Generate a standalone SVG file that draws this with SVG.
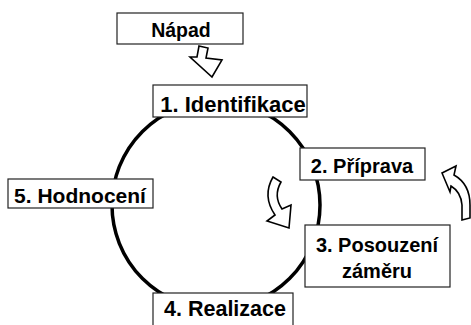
<svg xmlns="http://www.w3.org/2000/svg" width="471" height="325" viewBox="0 0 471 325">
<style>
.box{fill:#fff;stroke:#222;stroke-width:1.2}
.t{font-family:"Liberation Sans",Arial,sans-serif;font-weight:bold;fill:#000;text-anchor:middle}
.arr{fill:#fff;stroke:#000;stroke-width:1.6;stroke-linejoin:miter}
</style>
<rect width="471" height="325" fill="#fff"/>
<g id="connectors">
<circle cx="216" cy="205" r="104" fill="none" stroke="#000" stroke-width="3.5"/>
<polygon class="arr" points="199,46 208,48 206,58 222,60 212,77 190,57 197,57"/>
<path class="arr" d="M273,177 L281,182 Q273,196 282,209 L291,205 L289,228 L267,221 L275,215 Q262,196 273,177 Z"/>
<path class="arr" d="M442,173 L456,166 L454,175 Q470,184 470,205 L470,218 L462,220 L462,205 Q461,192 451,186 L450,192 Z"/>
</g>
<g id="napad"><rect class="box" x="117" y="13" width="126" height="31"/><text class="t" x="181" y="37" font-size="19.5">Nápad</text></g>
<g id="n1"><rect class="box" x="153" y="85" width="154" height="32"/><text class="t" x="233" y="112" font-size="22">1. Identifikace</text></g>
<g id="n2"><rect class="box" x="300" y="148" width="125" height="32"/><text class="t" x="362" y="173" font-size="20">2. Příprava</text></g>
<g id="n3"><rect class="box" x="305" y="225" width="145" height="62"/><text class="t" x="377" y="252" font-size="20">3. Posouzení</text><text class="t" x="377" y="278" font-size="20">záměru</text></g>
<g id="n4"><rect class="box" x="153" y="293" width="140" height="40"/><text class="t" x="225" y="316" font-size="21.5">4. Realizace</text></g>
<g id="n5"><rect class="box" x="8" y="179" width="145" height="29"/><text class="t" x="80" y="203" font-size="21">5. Hodnocení</text></g>
</svg>
